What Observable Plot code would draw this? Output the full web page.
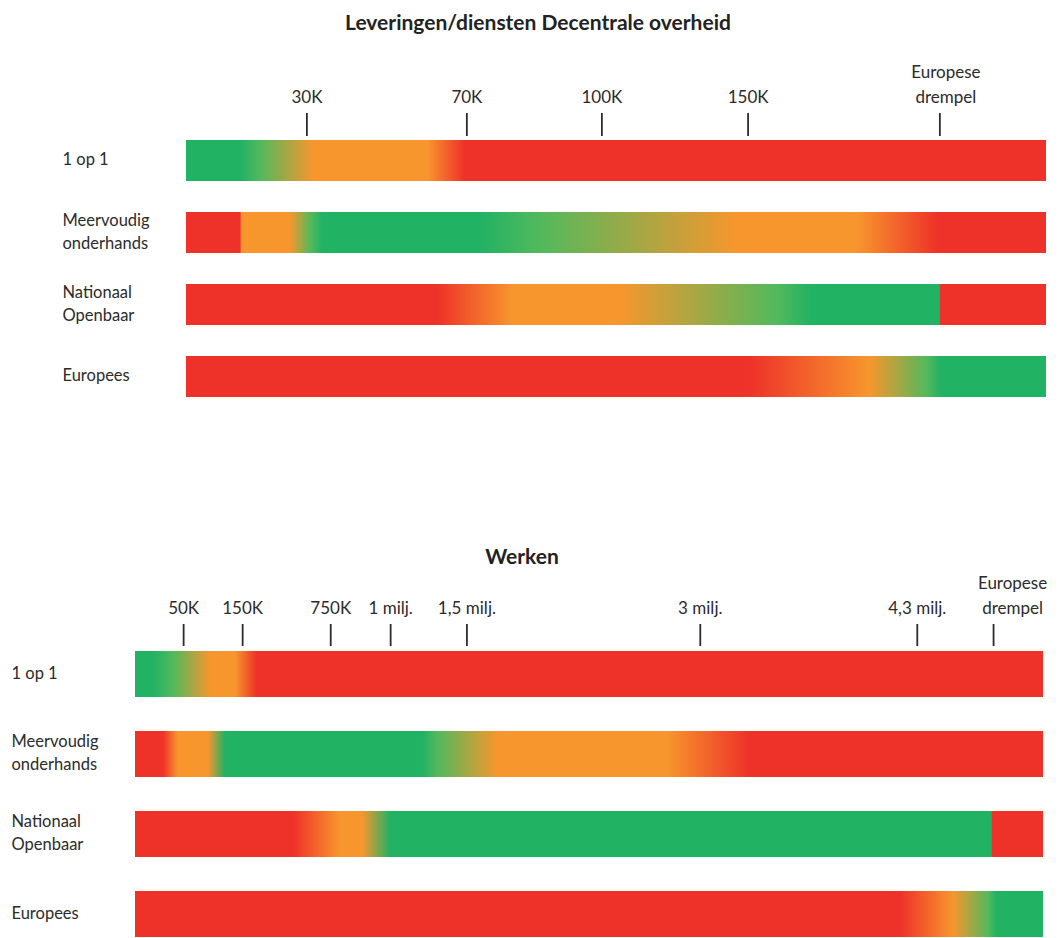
<!DOCTYPE html>
<html>
<head>
<meta charset="utf-8">
<script src="https://cdn.jsdelivr.net/npm/d3@7"></script>
<script src="https://cdn.jsdelivr.net/npm/@observablehq/plot@0.6"></script>
<style>
  html, body { margin: 0; padding: 0; background: #fff; }
  body { width: 1059px; height: 938px; overflow: hidden; position: relative; font-family: Lato, "Open Sans", sans-serif; }
  .panel { position: absolute; left: 0; }
  .title { position: absolute; left: 0; text-align: center; font-family: Lato, sans-serif; font-weight: bold; font-size: 21px; line-height: 1; color: #222; }
</style>
</head>
<body>
<div id="panel1" class="panel" style="top:0px"></div>
<div id="panel2" class="panel" style="top:540px"></div>
<div class="title" style="top:11px;width:1076px">Leveringen/diensten Decentrale overheid</div>
<div class="title" style="top:545px;width:1044px">Werken</div>
<script>
// ---------- DATA ----------
const categories = ["1 op 1", "Meervoudig\nonderhands", "Nationaal\nOpenbaar", "Europees"];

// Schematic axis: 0 = start of bar, 100 = end of bar
const leveringenTickPositions = [14.0, 32.6, 48.3, 65.3, 87.6];
const leveringenTickLabels = ["30K", "70K", "100K", "150K", "Europese\ndrempel"];

const werkenTickPositions = [5.3, 11.8, 21.5, 28.1, 36.5, 62.2, 86.1, 94.5];
const werkenTickLabels = ["50K", "150K", "750K", "1 milj.", "1,5 milj.", "3 milj.", "4,3 milj.", "Europese\ndrempel"];

// Colour stops along each bar: [position, advice]
const leveringen1op1 = [[0, "groen"], [6.4, "groen"], [8.6, "lichtgroen"], [14.8, "oranje"], [28.0, "oranje"], [32.4, "rood"], [100, "rood"]];
const leveringenMeervoudig = [[0, "rood"], [6.3, "rood"], [6.4, "oranje"], [12.1, "oranje"], [14.5, "lichtgroen"], [15.8, "groen"], [34.2, "groen"], [41.2, "lichtgroen"], [64.1, "oranje"], [78.0, "oranje"], [87.4, "rood"], [100, "rood"]];
const leveringenNationaal = [[0, "rood"], [29.2, "rood"], [38.0, "oranje"], [50.5, "oranje"], [68.7, "lichtgroen"], [72.6, "groen"], [87.6, "groen"], [87.7, "rood"], [100, "rood"]];
const leveringenEuropees = [[0, "rood"], [65.6, "rood"], [79.5, "oranje"], [86.2, "lichtgroen"], [87.7, "groen"], [100, "groen"]];

const werken1op1 = [[0, "groen"], [2.0, "groen"], [4.2, "lichtgroen"], [8.3, "oranje"], [11.0, "oranje"], [13.4, "rood"], [100, "rood"]];
const werkenMeervoudig = [[0, "rood"], [3.1, "rood"], [4.7, "oranje"], [8.0, "oranje"], [9.9, "groen"], [31.7, "groen"], [33.3, "lichtgroen"], [39.9, "oranje"], [58.6, "oranje"], [67.6, "rood"], [100, "rood"]];
const werkenNationaal = [[0, "rood"], [17.4, "rood"], [22.6, "oranje"], [25.0, "oranje"], [28.1, "groen"], [94.3, "groen"], [94.4, "rood"], [100, "rood"]];
const werkenEuropees = [[0, "rood"], [84.3, "rood"], [90.1, "oranje"], [94.0, "lichtgroen"], [94.9, "groen"], [100, "groen"]];

// ---------- STYLE ----------
const palette = { groen: "#22b264", lichtgroen: "#52b95c", oranje: "#f7962d", rood: "#ee3229" };
const ink = "#2b2b2b";

function panel({ stops, tickPositions, tickLabels, idPrefix, height, marginTop, marginLeft, marginRight, paddingInner, paddingOuter, tickSize, drempelDx }) {
  const labelOf = new Map(tickPositions.map((p, i) => [p, tickLabels[i]]));
  const drempelPos = tickPositions[tickPositions.length - 1];
  const bars = stops.map((s, i) => ({ cat: categories[i], start: s[0][0], end: s[s.length - 1][0], id: idPrefix + i }));
  const pad = 10;
  const plot = Plot.plot({
    width: 1059,
    height,
    marginTop,
    marginBottom: 0,
    marginLeft,
    marginRight,
    style: { fontFamily: "Lato, sans-serif", fontSize: "17px", color: ink, background: "transparent" },
    x: { domain: [0, 100] },
    y: { domain: categories, axis: null, paddingInner, paddingOuter },
    marks: [
      ...bars.map((b) => Plot.barX([b], { x1: (d) => d.start, x2: (d) => d.end, y: (d) => d.cat, fill: `url(#${b.id})` })),
      Plot.axisX(tickPositions, {
        anchor: "top",
        label: null,
        tickSize,
        tickPadding: pad,
        strokeWidth: 1.8,
        stroke: ink,
        fill: ink,
        fontSize: 17,
        lineHeight: 1.45,
        tickFormat: (d) => (d === drempelPos ? "" : labelOf.get(d))
      }),
      Plot.text([drempelPos], {
        x: (d) => d,
        frameAnchor: "top",
        dy: -(tickSize + pad),
        dx: drempelDx,
        lineAnchor: "bottom",
        lineHeight: 1.45,
        text: (d) => labelOf.get(d),
        fill: ink,
        fontSize: 17
      }),
      Plot.text(categories, {
        y: (d) => d,
        frameAnchor: "left",
        dx: -124,
        dy: -3,
        textAnchor: "start",
        lineHeight: 1.4,
        fill: ink,
        fontSize: 16.5
      })
    ]
  });
  // gradient definitions positioned through the x scale
  const xs = plot.scale("x");
  const ns = "http://www.w3.org/2000/svg";
  const defs = document.createElementNS(ns, "defs");
  bars.forEach((b, i) => {
    const x0 = xs.apply(b.start), x1 = xs.apply(b.end);
    const g = document.createElementNS(ns, "linearGradient");
    g.setAttribute("id", b.id);
    g.setAttribute("gradientUnits", "userSpaceOnUse");
    g.setAttribute("x1", x0); g.setAttribute("x2", x1);
    g.setAttribute("y1", 0); g.setAttribute("y2", 0);
    stops[i].forEach(([p, c]) => {
      const s = document.createElementNS(ns, "stop");
      s.setAttribute("offset", (xs.apply(p) - x0) / (x1 - x0));
      s.setAttribute("stop-color", palette[c]);
      g.appendChild(s);
    });
    defs.appendChild(g);
  });
  plot.insertBefore(defs, plot.firstChild);
  return plot;
}

document.getElementById("panel1").appendChild(panel({
  stops: [leveringen1op1, leveringenMeervoudig, leveringenNationaal, leveringenEuropees],
  tickPositions: leveringenTickPositions,
  tickLabels: leveringenTickLabels,
  idPrefix: "lev",
  height: 402,
  marginTop: 135,
  marginLeft: 186,
  marginRight: 13,
  paddingInner: 0.437,
  paddingOuter: 0.07,
  tickSize: 23,
  drempelDx: 6
}));

document.getElementById("panel2").appendChild(panel({
  stops: [werken1op1, werkenMeervoudig, werkenNationaal, werkenEuropees],
  tickPositions: werkenTickPositions,
  tickLabels: werkenTickLabels,
  idPrefix: "wrk",
  height: 403,
  marginTop: 105,
  marginLeft: 135,
  marginRight: 16,
  paddingInner: 0.42,
  paddingOuter: 0.066,
  tickSize: 22,
  drempelDx: 19
}));
</script>
</body>
</html>
